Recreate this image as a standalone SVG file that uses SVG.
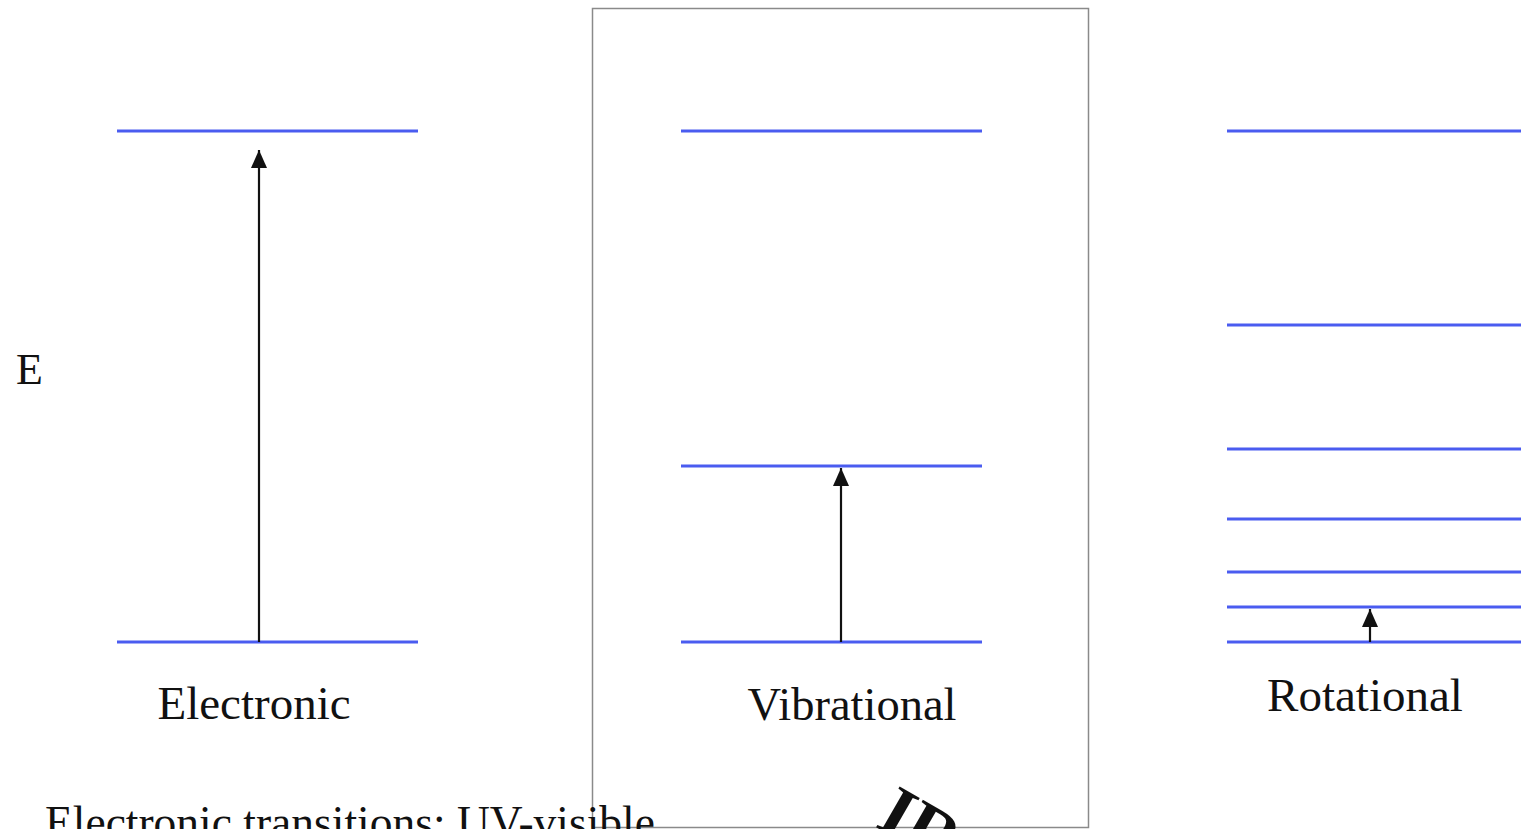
<svg xmlns="http://www.w3.org/2000/svg" width="1521" height="829" viewBox="0 0 1521 829">
  <style>
    .level { stroke: #4a5cf0; stroke-width: 3; }
    .arrow { stroke: #111; stroke-width: 2.2; fill: none; marker-end: url(#head); }
    .label { font-family: "Liberation Serif", "Times New Roman", serif; fill: #111; }
  </style>
  <defs>
    <marker id="head" viewBox="0 0 18 16" refX="18" refY="8" markerWidth="18" markerHeight="16" markerUnits="userSpaceOnUse" orient="auto">
      <path d="M0 0 L18 8 L0 16 Z" fill="#111"/>
    </marker>
  </defs>
  <rect width="1521" height="829" fill="#fff"/>

  <!-- frame around the vibrational panel -->
  <rect x="592.5" y="8.5" width="496" height="819" fill="none" stroke="#8a8a8a" stroke-width="1.5"/>

  <text class="label" x="16" y="384" font-size="44">E</text>

  <!-- electronic levels -->
  <g id="electronic">
    <line class="level" x1="117" y1="131" x2="418" y2="131"/>
    <line class="level" x1="117" y1="642" x2="418" y2="642"/>
    <text class="label" x="254" y="719" font-size="47" text-anchor="middle">Electronic</text>
  </g>

  <!-- vibrational levels -->
  <g id="vibrational">
    <line class="level" x1="681" y1="131" x2="982" y2="131"/>
    <line class="level" x1="681" y1="466" x2="982" y2="466"/>
    <line class="level" x1="681" y1="642" x2="982" y2="642"/>
    <text class="label" x="852" y="720" font-size="46.5" text-anchor="middle">Vibrational</text>
  </g>

  <!-- rotational levels -->
  <g id="rotational">
    <line class="level" x1="1227" y1="131" x2="1521" y2="131"/>
    <line class="level" x1="1227" y1="325" x2="1521" y2="325"/>
    <line class="level" x1="1227" y1="449" x2="1521" y2="449"/>
    <line class="level" x1="1227" y1="519" x2="1521" y2="519"/>
    <line class="level" x1="1227" y1="572" x2="1521" y2="572"/>
    <line class="level" x1="1227" y1="607" x2="1521" y2="607"/>
    <line class="level" x1="1227" y1="642" x2="1521" y2="642"/>
    <text class="label" x="1365" y="711" font-size="47" text-anchor="middle">Rotational</text>
  </g>

  <!-- transition arrows -->
  <g id="connectors">
    <line class="arrow" x1="259" y1="642" x2="259" y2="150"/>
    <line class="arrow" x1="841" y1="642" x2="841" y2="468"/>
    <line class="arrow" x1="1370" y1="642" x2="1370" y2="609"/>
  </g>

  <text class="label" x="45" y="838" font-size="45.5">Electronic transitions: UV-visible</text>
  <text class="label" x="874" y="826" font-size="72" font-weight="bold" transform="rotate(30 874 826)">IR</text>
</svg>
